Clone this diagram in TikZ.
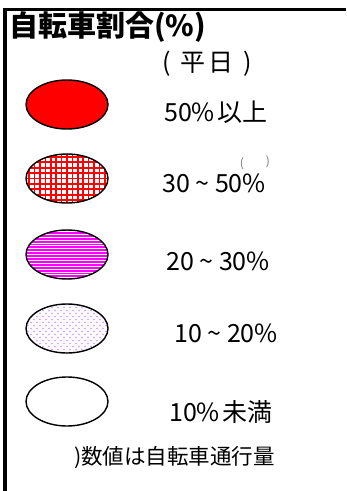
\documentclass[tikz,border=0pt]{standalone}
\usepackage{fontspec}
\setmainfont{Noto Sans CJK JP}
\usetikzlibrary{shapes.geometric}
\definecolor{dotc}{RGB}{196,156,255}
\definecolor{dotbg}{RGB}{253,250,255}
\definecolor{magc}{RGB}{255,0,255}
\definecolor{parc}{RGB}{120,120,120}
\tikzset{
  legend/.style={draw=black,line width=1.4bp,ellipse,inner sep=0pt,minimum width=82bp,minimum height=49bp},
  solidred/.style={legend,fill=red},
  gridfill/.style={legend,path picture={
    \fill[white] (path picture bounding box.south west) rectangle (path picture bounding box.north east);
    \foreach \k in {-8,...,8}{
      \draw[red,line width=1.7bp] ([xshift={\k*5.4bp}]path picture bounding box.center) ++(0,-30) -- ++(0,60);
      \draw[red,line width=1.7bp] ([yshift={\k*5.4bp}]path picture bounding box.center) ++(-45,0) -- ++(90,0);
    }}},
  stripefill/.style={legend,path picture={
    \fill[magc] (path picture bounding box.south west) rectangle (path picture bounding box.north east);
    \foreach \k in {-9,...,9}{
      \draw[white,line width=0.8bp] ([yshift={\k*2.9bp}]path picture bounding box.center) ++(-45,0) -- ++(90,0);
    }}},
  dotfill/.style={legend,path picture={
    \fill[dotbg] (path picture bounding box.south west) rectangle (path picture bounding box.north east);
    \foreach \r in {-9,...,9}{
      \foreach \c in {-8,...,8}{
        \fill[dotc] ([xshift={\c*6bp+mod(abs(\r),2)*3bp},yshift={\r*3bp}]path picture bounding box.center) circle (0.9bp);
      }}}},
  whitefill/.style={legend,fill=white},
  lab/.style={anchor=west,inner sep=0pt,font=\fontsize{25bp}{28bp}\selectfont},
}
\begin{document}
\begin{tikzpicture}[x=1bp,y=-1bp]
\useasboundingbox (0,0) rectangle (346,491);
\fill[white] (0,0) rectangle (346,491);
% frame
\draw[line width=3bp] (3.5,9.5) -- (346,9.5);
\draw[line width=3.6bp] (5.2,8) -- (5.2,491);
% title
\node[anchor=west,inner sep=0pt,font=\fontsize{29bp}{32bp}\selectfont\bfseries] (title) at (9,27) {自転車割合(\%)};
\node[anchor=west,inner sep=0pt,font=\fontsize{25bp}{28bp}\selectfont] (day) at (162,64) {(\hspace{10bp}平\hspace{3bp}日\hspace{10bp})};
% legend shapes
\node[solidred] (e1) at (67,104.5) {};
\node[gridfill] (e2) at (67,178.5) {};
\node[stripefill] (e3) at (67,254.5) {};
\node[dotfill] (e4) at (67,328.5) {};
\node[whitefill] (e5) at (67,401.5) {};
% labels
\node[lab] (l1) at (164,112) {50\%\hspace{2.5bp}以上};
\node[lab] (l2) at (162,183) {30 \symbol{126} 50\%};
\node[lab] (l3) at (166,261) {20 \symbol{126} 30\%};
\node[lab] (l4) at (174,333) {10 \symbol{126} 20\%};
\node[lab] (l5) at (169,412) {10\%\hspace{2.5bp}未満};
\node[inner sep=0pt,text=parc,font=\fontsize{12bp}{14bp}\selectfont] (p1) at (242,164) {(};
\node[inner sep=0pt,text=parc,font=\fontsize{12bp}{14bp}\selectfont] (p2) at (268,162) {)};
\node[anchor=west,inner sep=0pt,font=\fontsize{21.5bp}{24bp}\selectfont] (note) at (74,458) {)数値は自転車通行量};
\end{tikzpicture}
\end{document}
